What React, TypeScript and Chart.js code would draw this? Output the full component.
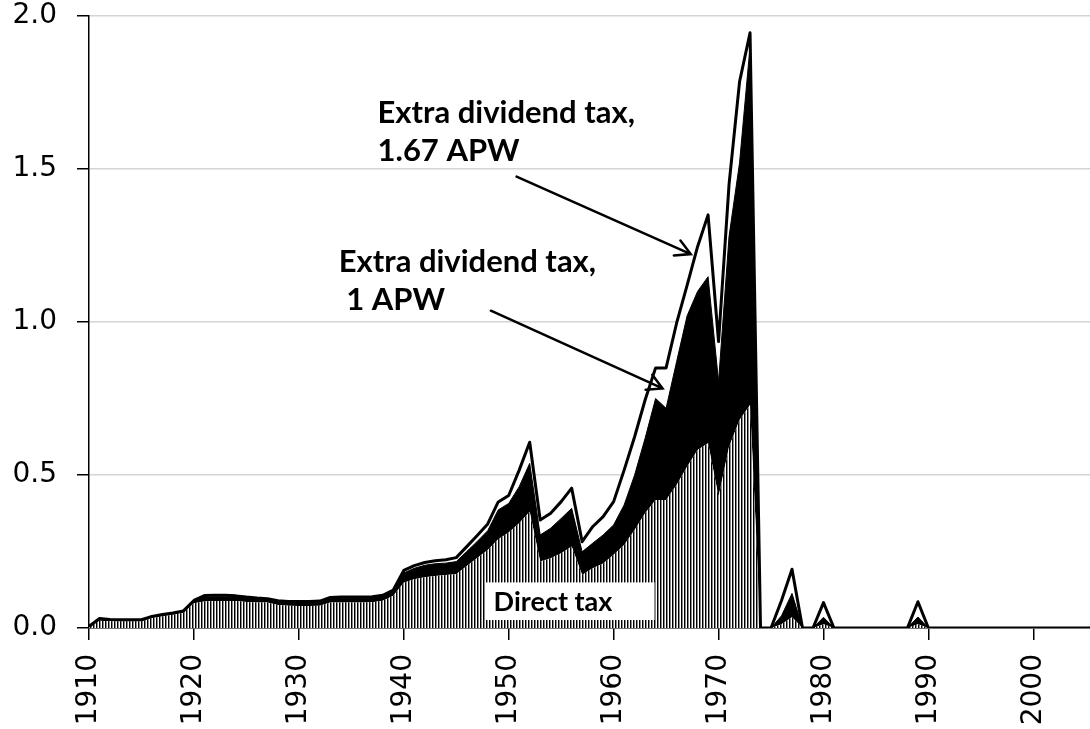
import React, { useEffect, useRef } from 'react';
import { Chart, registerables } from 'chart.js';

Chart.register(...registerables);

// ---- data ----
const years: number[] = [
  1910, 1911, 1912, 1913, 1914, 1915, 1916, 1917, 1918, 1919,
  1920, 1921, 1922, 1923, 1924, 1925, 1926, 1927, 1928, 1929,
  1930, 1931, 1932, 1933, 1934, 1935, 1936, 1937, 1938, 1939,
  1940, 1941, 1942, 1943, 1944, 1945, 1946, 1947, 1948, 1949,
  1950, 1951, 1952, 1953, 1954, 1955, 1956, 1957, 1958, 1959,
  1960, 1961, 1962, 1963, 1964, 1965, 1966, 1967, 1968, 1969,
  1970, 1971, 1972, 1973, 1974, 1975, 1976, 1977, 1978, 1979,
  1980, 1981, 1982, 1983, 1984, 1985, 1986, 1987, 1988, 1989,
  1990, 1991, 1992, 1993, 1994, 1995, 1996, 1997, 1998, 1999,
  2000, 2001, 2002, 2003, 2004, 2005, 2006,
];

const directTax: number[] = [
  0.003, 0.024, 0.022, 0.022, 0.022, 0.022, 0.033, 0.038, 0.043, 0.05,
  0.081, 0.087, 0.088, 0.088, 0.088, 0.085, 0.083, 0.083, 0.075, 0.073,
  0.072, 0.072, 0.073, 0.083, 0.083, 0.083, 0.083, 0.084, 0.089, 0.105,
  0.148, 0.159, 0.166, 0.17, 0.173, 0.176, 0.203, 0.229, 0.255, 0.29,
  0.312, 0.342, 0.38, 0.217, 0.228, 0.244, 0.266, 0.173, 0.195, 0.211,
  0.239, 0.271, 0.32, 0.375, 0.418, 0.418, 0.467, 0.527, 0.582, 0.604,
  0.429, 0.592, 0.68, 0.729, 0, 0, 0.012, 0.035, 0, 0,
  0.012, 0, 0, 0, 0, 0, 0, 0, 0, 0.012,
  0, 0, 0, 0, 0, 0, 0, 0, 0, 0,
  0, 0, 0, 0, 0, 0, 0,
];

const extraTax1APW: number[] = [
  0.001, 0.005, 0.004, 0.004, 0.004, 0.004, 0.004, 0.005, 0.005, 0.005,
  0.007, 0.014, 0.014, 0.014, 0.013, 0.012, 0.011, 0.009, 0.01, 0.01,
  0.011, 0.011, 0.011, 0.013, 0.014, 0.014, 0.014, 0.014, 0.014, 0.014,
  0.032, 0.036, 0.039, 0.04, 0.039, 0.041, 0.047, 0.054, 0.063, 0.096,
  0.095, 0.12, 0.158, 0.087, 0.098, 0.114, 0.125, 0.076, 0.082, 0.093,
  0.098, 0.131, 0.18, 0.245, 0.332, 0.3, 0.403, 0.493, 0.518, 0.544,
  0.376, 0.688, 0.84, 1.171, 0, 0, 0.028, 0.078, 0, 0,
  0.023, 0, 0, 0, 0, 0, 0, 0, 0, 0.024,
  0, 0, 0, 0, 0, 0, 0, 0, 0, 0,
  0, 0, 0, 0, 0, 0, 0,
];

const extraTax167APW: number[] = [
  0.001, 0.002, 0.002, 0.001, 0.001, 0.001, 0.001, 0.001, 0.001, 0.001,
  0.002, 0.005, 0.005, 0.005, 0.004, 0.004, 0.004, 0.004, 0.004, 0.004,
  0.004, 0.004, 0.004, 0.004, 0.004, 0.004, 0.004, 0.004, 0.004, 0.005,
  0.008, 0.009, 0.009, 0.01, 0.011, 0.013, 0.016, 0.019, 0.022, 0.026,
  0.026, 0.054, 0.069, 0.049, 0.049, 0.055, 0.066, 0.033, 0.054, 0.06,
  0.076, 0.114, 0.125, 0.125, 0.1, 0.132, 0.126, 0.1, 0.146, 0.202,
  0.131, 0.17, 0.265, 0.045, 0, 0, 0.05, 0.079, 0, 0,
  0.048, 0, 0, 0, 0, 0, 0, 0, 0, 0.05,
  0, 0, 0, 0, 0, 0, 0, 0, 0, 0,
  0, 0, 0, 0, 0, 0, 0,
];

const yTicks: number[] = [0, 0.5, 1.0, 1.5, 2.0];
const xTicks: number[] = [1910, 1920, 1930, 1940, 1950, 1960, 1970, 1980, 1990, 2000];
const xRange = { min: 1910, max: 2005.4 };

// ---- annotation placement (data coordinates) ----
const noteUpperLines: string[] = ['Extra dividend tax,', '1.67 APW'];
const noteUpperAnchor = { year: 1937.5, value: 1.649 };
const noteUpperArrow = { fromYear: 1950.75, fromValue: 1.475, toYear: 1967.35, toValue: 1.222 };

const noteLowerLines: string[] = ['Extra dividend tax,', ' 1 APW'];
const noteLowerAnchor = { year: 1933.8, value: 1.164 };
const noteLowerArrow = { fromYear: 1948.3, fromValue: 1.037, toYear: 1964.66, toValue: 0.783 };

const directLabel = 'Direct tax';
const directBox = { fromYear: 1947.8, toYear: 1963.9, top: 0.149, bottom: 0.026 };

function makeHatch(): CanvasPattern | string {
  const c = document.createElement('canvas');
  c.width = 3;
  c.height = 8;
  const g = c.getContext('2d');
  if (!g) return '#888';
  g.fillStyle = '#ffffff';
  g.fillRect(0, 0, 3, 8);
  g.fillStyle = '#000000';
  g.fillRect(0, 0, 1, 8);
  g.fillStyle = '#8a8a8a';
  g.fillRect(1, 0, 1, 8);
  const p = g.createPattern(c, 'repeat');
  return p || '#888';
}

const annotationPlugin = {
  id: 'taxAnnotations',
  afterDatasetsDraw(chart: any) {
    const { ctx } = chart;
    const x = chart.scales.x;
    const y = chart.scales.y;
    ctx.save();

    // Direct tax label box
    const bx0 = x.getPixelForValue(directBox.fromYear);
    const bx1 = x.getPixelForValue(directBox.toYear);
    const by0 = y.getPixelForValue(directBox.top);
    const by1 = y.getPixelForValue(directBox.bottom);
    ctx.fillStyle = '#ffffff';
    ctx.fillRect(bx0, by0, bx1 - bx0, by1 - by0);
    ctx.fillStyle = '#000000';
    ctx.font = 'bold 27px Lato';
    ctx.textBaseline = 'middle';
    ctx.textAlign = 'left';
    ctx.fillText(directLabel, bx0 + 8, (by0 + by1) / 2 + 1);

    // Text notes
    ctx.textBaseline = 'alphabetic';
    ctx.font = 'bold 31px Lato';
    const drawNote = (lines: string[], anchor: { year: number; value: number }) => {
      const px = x.getPixelForValue(anchor.year);
      const py = y.getPixelForValue(anchor.value);
      lines.forEach((t, i) => ctx.fillText(t, px, py + i * 38));
    };
    drawNote(noteUpperLines, noteUpperAnchor);
    drawNote(noteLowerLines, noteLowerAnchor);

    const drawArrow = (a: { fromYear: number; fromValue: number; toYear: number; toValue: number }) => {
      const x0 = x.getPixelForValue(a.fromYear);
      const y0 = y.getPixelForValue(a.fromValue);
      const x1 = x.getPixelForValue(a.toYear);
      const y1 = y.getPixelForValue(a.toValue);
      const ang = Math.atan2(y1 - y0, x1 - x0);
      const head = 17;
      const spread = 0.5;
      ctx.strokeStyle = '#000000';
      ctx.lineWidth = 2.5;
      ctx.lineCap = 'round';
      ctx.beginPath();
      ctx.moveTo(x0, y0);
      ctx.lineTo(x1, y1);
      ctx.moveTo(x1 - head * Math.cos(ang - spread), y1 - head * Math.sin(ang - spread));
      ctx.lineTo(x1, y1);
      ctx.lineTo(x1 - head * Math.cos(ang + spread), y1 - head * Math.sin(ang + spread));
      ctx.stroke();
    };
    drawArrow(noteUpperArrow);
    drawArrow(noteLowerArrow);

    ctx.restore();
  },
};

export default function App() {
  const ref = useRef<HTMLCanvasElement | null>(null);

  useEffect(() => {
    const canvas = ref.current;
    if (!canvas) return;
    const hatch = makeHatch();
    const toPoints = (arr: number[]) => years.map((yr, i) => ({ x: yr, y: arr[i] }));

    const chart = new Chart(canvas, {
      type: 'line',
      data: {
        datasets: [
          {
            label: 'Direct tax',
            data: toPoints(directTax),
            backgroundColor: hatch as any,
            borderWidth: 0,
            borderColor: 'rgba(0,0,0,0)',
            fill: 'origin',
            pointRadius: 0,
            tension: 0,
          },
          {
            label: 'Extra dividend tax, 1 APW',
            data: toPoints(extraTax1APW),
            backgroundColor: '#000000',
            borderColor: '#000000',
            borderWidth: 1,
            fill: '-1',
            pointRadius: 0,
            tension: 0,
          },
          {
            label: 'Extra dividend tax, 1.67 APW',
            data: toPoints(extraTax167APW),
            backgroundColor: '#ffffff',
            borderColor: '#000000',
            borderWidth: 3,
            fill: '-1',
            pointRadius: 0,
            tension: 0,
            borderJoinStyle: 'round',
          },
        ],
      },
      options: {
        responsive: false,
        animation: false,
        events: [],
        layout: { padding: { top: 0, right: 0, left: 0, bottom: 0 } },
        plugins: {
          legend: { display: false },
          tooltip: { enabled: false },
          filler: { drawTime: 'beforeDatasetsDraw' },
        },
        scales: {
          x: {
            type: 'linear',
            min: xRange.min,
            max: xRange.max,
            border: { display: true, color: '#000000', width: 1.5 },
            grid: {
              display: true,
              drawOnChartArea: false,
              drawTicks: true,
              tickLength: 12,
              tickColor: '#000000',
              lineWidth: 1.5,
            },
            afterBuildTicks: (s: any) => {
              s.ticks = xTicks.map((v) => ({ value: v }));
            },
            ticks: {
              minRotation: 90,
              maxRotation: 90,
              autoSkip: false,
              padding: 14,
              color: '#000000',
              font: { family: 'DejaVu Sans', size: 28 },
              callback: (v: any) => String(v),
            },
            afterFit: (s: any) => {
              s.height = 101;
            },
          },
          y: {
            type: 'linear',
            stacked: true,
            min: 0,
            max: 2,
            border: { display: true, color: '#000000', width: 1.5 },
            grid: {
              color: '#d4d4d4',
              lineWidth: 1.5,
              drawTicks: true,
              tickLength: 12,
              tickColor: '#000000',
            },
            afterBuildTicks: (s: any) => {
              s.ticks = yTicks.map((v) => ({ value: v }));
            },
            ticks: {
              padding: 20,
              color: '#000000',
              font: { family: 'DejaVu Sans', size: 28, lineHeight: 1.0 },
              callback: (v: any) => Number(v).toFixed(1),
            },
            afterFit: (s: any) => {
              s.width = 89;
              s.paddingTop = 16;
              s.paddingBottom = 14;
            },
          },
        },
      },
      plugins: [annotationPlugin],
    });

    return () => chart.destroy();
  }, []);

  return (
    <div
      style={{
        position: 'absolute',
        left: 0,
        top: 0,
        width: 1090,
        height: 729,
        background: '#ffffff',
        overflow: 'hidden',
      }}
    >
      <canvas ref={ref} width={1090} height={729} style={{ width: 1090, height: 729, display: 'block' }} />
    </div>
  );
}
